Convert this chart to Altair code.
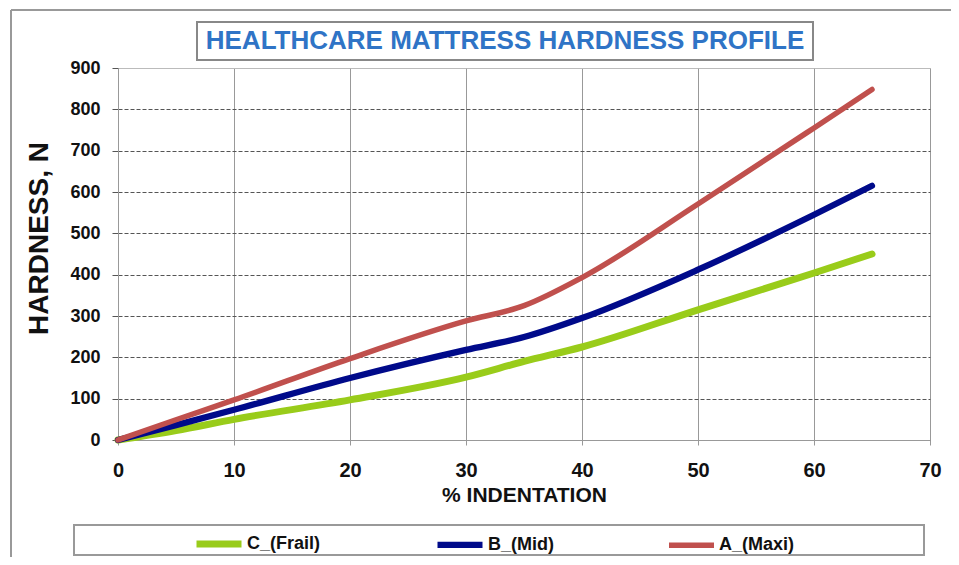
import altair as alt
import pandas as pd

indentation = [0, 5, 10, 20, 30, 35, 40, 50, 60, 65]
frail = [0, 23, 50, 97, 152, 190, 225, 315, 404, 450]
mid = [0, 36, 73, 150, 218, 249, 295, 412, 545, 615]
maxi = [0, 49, 97, 197, 288, 325, 393, 571, 755, 848]

series_names = ["C_(Frail)", "B_(Mid)", "A_(Maxi)"]
series_colors = ["#99CC1A", "#000A8A", "#C0504D"]
series_widths = [7, 5.5, 3.5]

x_ticks = [0, 10, 20, 30, 40, 50, 60, 70]
y_ticks = [0, 100, 200, 300, 400, 500, 600, 700, 800, 900]

title_text = "HEALTHCARE MATTRESS HARDNESS PROFILE"

rows = []
for name, vals in zip(series_names, [frail, mid, maxi]):
    for xv, yv in zip(indentation, vals):
        rows.append({"x": xv, "y": yv, "series": name})
df = pd.DataFrame(rows)

FONT = "Liberation Sans"

lines = alt.Chart(df).mark_line(interpolate="monotone", strokeCap="round").encode(
    x=alt.X("x:Q", scale=alt.Scale(domain=[0, 70], nice=False),
            axis=alt.Axis(values=x_ticks, title="% INDENTATION", grid=True,
                          gridColor="#999999", gridWidth=1, domainColor="#999999",
                          tickColor="#999999", tickSize=5, labelPadding=15, labelFlush=False,
                          labelFontSize=20, labelFontWeight="bold", labelColor="#111111",
                          titleFontSize=21, titleFontWeight="bold", titleColor="#111111",
                          titlePadding=4, labelFont=FONT, titleFont=FONT)),
    y=alt.Y("y:Q", scale=alt.Scale(domain=[0, 900], nice=False),
            axis=alt.Axis(values=y_ticks, title="HARDNESS, N", grid=True,
                          gridColor={"condition": {"test": "datum.value >= 900", "value": "#bbbbbb"}, "value": "#555555"},
                          gridDash=[4, 2], gridWidth=1, domainColor="#999999",
                          tickColor="#555555", tickSize=6, labelPadding=12, labelFlush=False,
                          labelFontSize=18, labelFontWeight="bold", labelColor="#111111",
                          titleFontSize=28, titleFontWeight="bold", titleColor="#111111",
                          titlePadding=16, titleY=170, labelFont=FONT, titleFont=FONT)),
    color=alt.Color("series:N", scale=alt.Scale(domain=series_names, range=series_colors),
                    sort=series_names,
                    legend=alt.Legend(title=None, orient="none", legendX=75, legendY=450,
                                      direction="horizontal", symbolType="stroke",
                                      symbolSize=2025, symbolStrokeWidth=5,
                                      labelFontSize=18, labelFontWeight="bold",
                                      labelColor="#111111", labelFont=FONT,
                                      labelOffset=2, columnPadding=104, padding=0)),
    strokeWidth=alt.StrokeWidth("series:N", scale=alt.Scale(domain=series_names, range=series_widths),
                                legend=None),
)

one = pd.DataFrame({"t": [title_text]})

title_box = alt.Chart(one).mark_rect(fill="white", stroke="#888888", strokeWidth=2).encode(
    x=alt.value(79), x2=alt.value(695), y=alt.value(-46), y2=alt.value(-8))
title_mark = alt.Chart(one).mark_text(font=FONT, fontSize=26, fontWeight="bold",
                                      color="#2F74C6", align="center", baseline="middle").encode(
    x=alt.value(387), y=alt.value(-27), text="t:N")
legend_box = alt.Chart(one).mark_rect(fill="white", fillOpacity=0, stroke="#999999", strokeWidth=2).encode(
    x=alt.value(-44), x2=alt.value(806), y=alt.value(457), y2=alt.value(487))
frame_top = alt.Chart(one).mark_rule(color="#999999", strokeWidth=2).encode(
    x=alt.value(-107), x2=alt.value(845), y=alt.value(-58))
frame_left = alt.Chart(one).mark_rule(color="#999999", strokeWidth=2).encode(
    x=alt.value(-107), y=alt.value(-58), y2=alt.value(500))

chart = alt.layer(frame_top, frame_left, title_box, title_mark, legend_box, lines).properties(
    width=812, height=372,
    autosize=alt.AutoSizeParams(type="none"),
    padding={"left": 110, "top": 60, "right": 21, "bottom": 117},
    background="white",
).configure_view(stroke="#bbbbbb", strokeWidth=1)

chart.save("out.html", embed_options={"renderer": "svg", "actions": False})
